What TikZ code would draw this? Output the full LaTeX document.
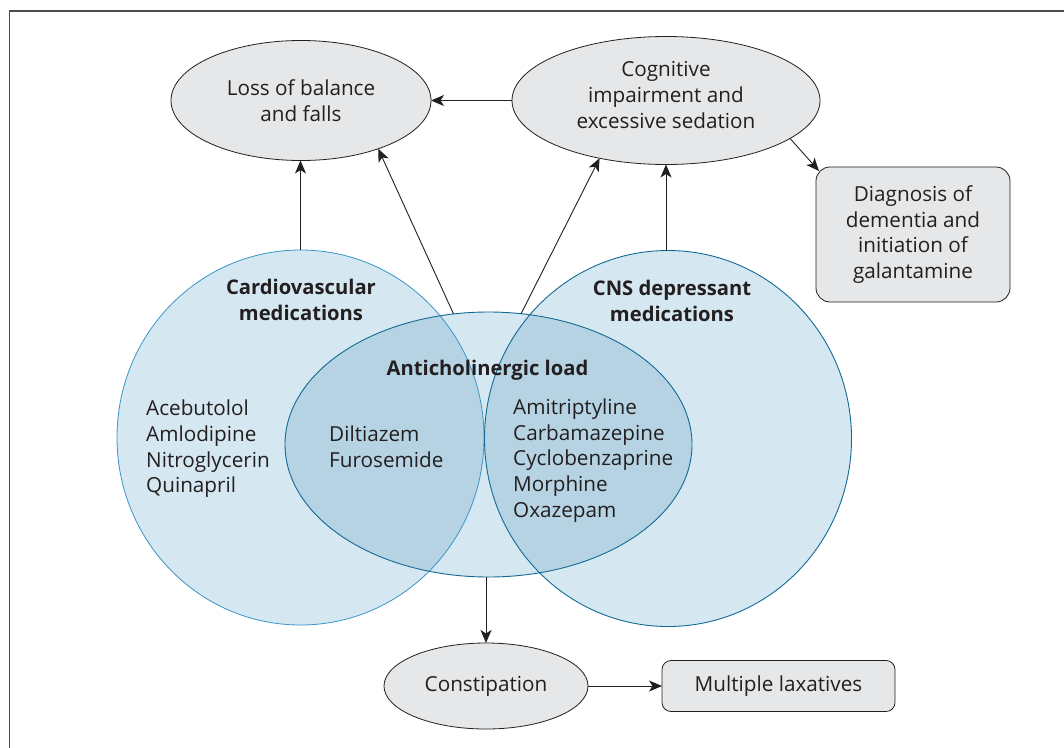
\documentclass[tikz,border=0pt]{standalone}
\usepackage{fontspec}
\setmainfont{Open Sans}
\usetikzlibrary{shapes.geometric,arrows.meta,calc}
\definecolor{grayfill}{HTML}{E6E7E8}
\definecolor{ink}{HTML}{231F20}
\definecolor{lightblue}{HTML}{D5E7F1}
\definecolor{darkblue}{HTML}{B6D3E4}
\definecolor{cvcline}{HTML}{3B95C6}
\definecolor{tealline}{HTML}{136A94}
\definecolor{framecol}{HTML}{4D4D4D}
\begin{document}
\begin{tikzpicture}[x=1pt,y=-1pt,
  txt/.style={font=\fontsize{20.7}{25.7}\selectfont, text=ink, inner sep=0pt},
  btxt/.style={txt, font=\fontsize{20.2}{25.7}\selectfont\bfseries, align=center},
  grayell/.style={ellipse, draw=ink, line width=0.8pt, fill=grayfill, inner sep=0pt, outer sep=0pt, align=center, font=\fontsize{20.7}{25.7}\selectfont, text=ink},
  graybox/.style={rectangle, rounded corners=14pt, draw=ink, line width=0.8pt, fill=grayfill, inner sep=0pt, outer sep=0pt, align=center, font=\fontsize{20.7}{25.7}\selectfont, text=ink},
  venn/.style={ellipse, fill=lightblue, inner sep=0pt, outer sep=0pt},
  arr/.style={draw=ink, line width=0.9pt, -{Stealth[length=13pt,width=11pt,inset=3.5pt]}}
]
\useasboundingbox (0,0) rectangle (1064,747);
\fill[white] (0,0) rectangle (1064,747);
% frame
\draw[framecol, line width=1.6pt] (9.5,760) -- (9.5,11) -- (1075,11);

% Venn fills
\node[venn, minimum width=367, minimum height=375] (cvc) at (300.5,437.5) {};
\node[venn, minimum width=367, minimum height=376] (cns) at (668,438.5) {};
\node[venn, minimum width=407, minimum height=265] (acl) at (488.5,444.5) {};
\begin{scope}
  \clip (cvc.center) ellipse [x radius=183.5, y radius=187.5];
  \fill[darkblue] (acl.center) ellipse [x radius=203.5, y radius=132.5];
\end{scope}
\begin{scope}
  \clip (cns.center) ellipse [x radius=183.5, y radius=188];
  \fill[darkblue] (acl.center) ellipse [x radius=203.5, y radius=132.5];
\end{scope}
\draw[cvcline, line width=0.8pt] (cvc.center) ellipse [x radius=183.5, y radius=187.5];
\draw[tealline, line width=0.9pt] (cns.center) ellipse [x radius=183.5, y radius=188];
\draw[tealline, line width=0.9pt] (acl.center) ellipse [x radius=203.5, y radius=132.5];

% Venn texts
\node[btxt] (cvct) at (301,300) {Cardiovascular\\medications};
\node[btxt] (cnst) at (672,301) {CNS depressant\\medications};
\node[btxt] (aclt) at (487.5,370) {Anticholinergic load};
\node[txt, align=left, anchor=west] (cvclist) at (146,449) {Acebutolol\\Amlodipine\\Nitroglycerin\\Quinapril};
\node[txt, align=left, anchor=west] (both) at (329,447) {Diltiazem\\Furosemide};
\node[txt, align=left, anchor=west] (cnslist) at (513,460.5) {Amitriptyline\\Carbamazepine\\Cyclobenzaprine\\Morphine\\Oxazepam};

% outcome nodes
\node[grayell, minimum width=260, minimum height=120] (loss) at (301,100.5) {Loss of balance\\and falls};
\node[grayell, minimum width=308, minimum height=128] (cog) at (666,100.5) {};
\node[txt, align=center] (cogt) at (666,95) {Cognitive\\impairment and\\excessive sedation};
\node[graybox, minimum width=194, minimum height=135] (diag) at (913,234.5) {Diagnosis of\\dementia and\\initiation of\\galantamine};
\node[grayell, minimum width=204, minimum height=86] (const) at (486,686) {Constipation};
\node[graybox, rounded corners=9pt, minimum width=233, minimum height=51] (lax) at (778.5,686) {Multiple laxatives};

% connectors
\draw[arr] (cvc.north) -- (cvc.north |- loss.south);
\draw[arr] (acl.105.5) -- (loss.-32);
\draw[arr] (acl.76.5) -- (cog.-139);
\draw[arr] (cns.north -| cog.south) -- (cog.south);
\draw[arr] (cog.west) -- (loss.east);
\draw[arr] (cog.-17.5) -- ([shift={(3pt,-4pt)}]diag.north west);
\draw[arr] (acl.south -| const.north) -- (const.north);
\draw[arr] (const.east) -- (lax.west);
\end{tikzpicture}
\end{document}
